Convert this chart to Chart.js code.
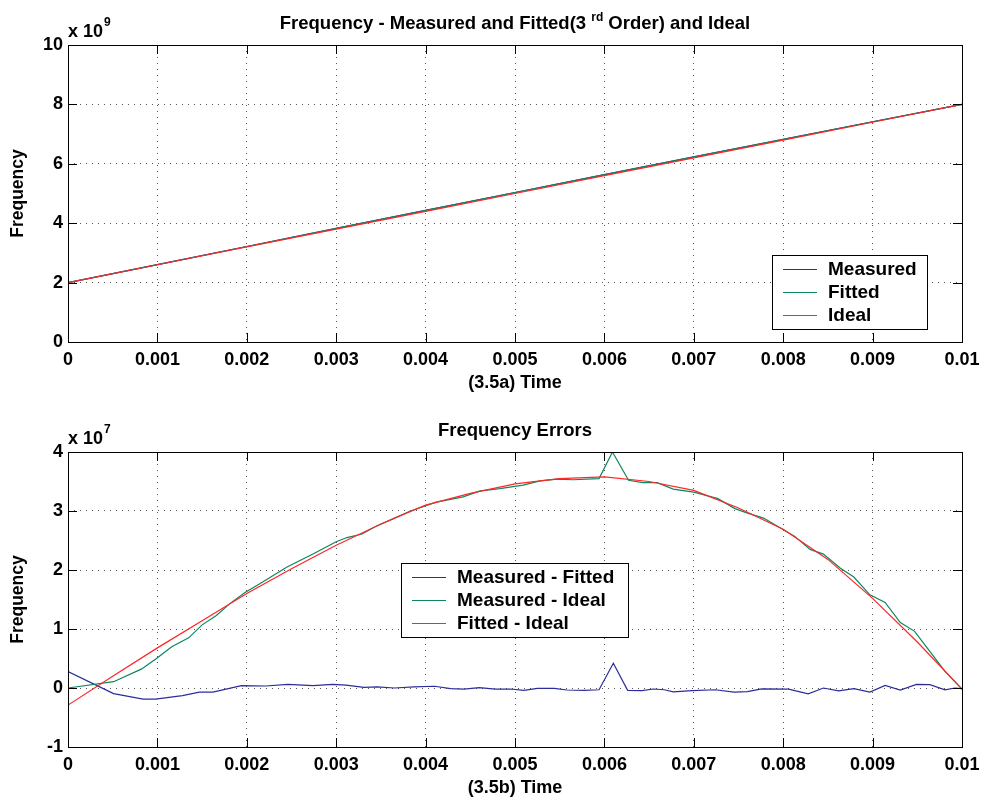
<!DOCTYPE html>
<html>
<head>
<meta charset="utf-8">
<script src="https://cdn.jsdelivr.net/npm/chart.js@4.4.0/dist/chart.umd.min.js"></script>
<style>
  html, body { margin: 0; padding: 0; background: #fff; }
  .panel { position: absolute; left: 0; width: 984px; height: 401px; }
</style>
</head>
<body>
<div class="panel" style="top:0"><canvas id="freqChart"></canvas></div>
<div class="panel" style="top:401px"><canvas id="errChart"></canvas></div>
<script>
// ---- data: top panel (frequency, x 1e9) ----
const timeTop = [0, 0.001, 0.002, 0.003, 0.004, 0.005, 0.006, 0.007, 0.008, 0.009, 0.01];
const freqMeasured = [2.0, 2.6045, 3.216, 3.8245, 4.4305, 5.034, 5.6355, 6.2335, 6.8265, 7.4155, 8.0];
const freqFitted   = [1.9971, 2.6068, 3.216, 3.8242, 4.431, 5.0346, 5.6358, 6.2335, 6.8269, 7.4152, 7.9998];
const freqIdeal    = [2.0, 2.6, 3.2, 3.8, 4.4, 5.0, 5.6, 6.2, 6.8, 7.4, 8.0];

// ---- data: bottom panel (frequency errors, x 1e7) ----
const timeMF = [0, 0.00051, 0.00084, 0.00098, 0.00128, 0.00147, 0.00162, 0.00194, 0.00221, 0.00246,
  0.00274, 0.00296, 0.00311, 0.00331, 0.00346, 0.00365, 0.00387, 0.0041, 0.00428, 0.00443,
  0.0046, 0.00478, 0.00495, 0.0051, 0.00525, 0.00544, 0.00558, 0.00577, 0.00594, 0.0061,
  0.00626, 0.00642, 0.00655, 0.00667, 0.00677, 0.00698, 0.00724, 0.00745, 0.0076, 0.00776,
  0.00806, 0.00828, 0.00845, 0.00862, 0.00879, 0.00897, 0.00914, 0.00931, 0.00949, 0.00964,
  0.00981, 0.00992, 0.01];
const errMeasFitted = [0.28, -0.096, -0.19, -0.19, -0.13, -0.07, -0.07, 0.04, 0.034, 0.06,
  0.04, 0.06, 0.05, 0.01, 0.02, 0.0, 0.02, 0.03, -0.01, -0.02,
  0.005, -0.02, -0.017, -0.04, -0.005, -0.005, -0.034, -0.04, -0.03, 0.42,
  -0.04, -0.045, -0.017, -0.03, -0.065, -0.045, -0.03, -0.07, -0.06, -0.015,
  -0.02, -0.1, 0.0, -0.05, -0.01, -0.07, 0.045, -0.035, 0.06, 0.056,
  -0.03, 0.0, -0.01];

const timeMI = [0, 0.00051, 0.00082, 0.00099, 0.00116, 0.00135, 0.0015, 0.00166, 0.00181, 0.00198,
  0.00215, 0.00245, 0.00274, 0.003, 0.00312, 0.00329, 0.00343, 0.00364, 0.00383, 0.00412,
  0.00442, 0.00461, 0.00483, 0.00509, 0.00528, 0.00547, 0.00565, 0.00594, 0.00609, 0.00627,
  0.00643, 0.00659, 0.00677, 0.007, 0.00727, 0.00746, 0.00761, 0.00778, 0.00796, 0.00813,
  0.0083, 0.00845, 0.00864, 0.00879, 0.00897, 0.00914, 0.00931, 0.00947, 0.00964, 0.00981,
  0.01];
const errMeasIdeal = [0, 0.107, 0.32, 0.5, 0.7, 0.85, 1.07, 1.23, 1.43, 1.62,
  1.77, 2.05, 2.27, 2.48, 2.55, 2.61, 2.73, 2.87, 3.0, 3.15,
  3.24, 3.34, 3.38, 3.44, 3.51, 3.54, 3.53, 3.55, 4.0, 3.52,
  3.48, 3.48, 3.37, 3.32, 3.21, 3.04, 2.96, 2.88, 2.72, 2.57,
  2.35, 2.27, 2.03, 1.88, 1.58, 1.45, 1.11, 0.96, 0.62, 0.28,
  -0.02];

const timeFI = [0, 0.0005, 0.001, 0.0015, 0.002, 0.0025, 0.003, 0.0035, 0.004, 0.0045, 0.005,
  0.0055, 0.006, 0.0065, 0.007, 0.0075, 0.008, 0.0085, 0.009, 0.0095, 0.01];
const errFittedIdeal = [-0.29, 0.2, 0.68, 1.14, 1.6, 2.02, 2.42, 2.78, 3.1, 3.3, 3.46,
  3.55, 3.58, 3.5, 3.35, 3.05, 2.69, 2.18, 1.52, 0.78, -0.02];

const xTicks = [0, 0.001, 0.002, 0.003, 0.004, 0.005, 0.006, 0.007, 0.008, 0.009, 0.01];

// ---- style ----
const FONT = "'Liberation Sans', Arial, Helvetica, sans-serif";
const BLUE = '#2c2c9e';
const GREEN = '#0e8660';
const RED = '#ff2626';
Chart.defaults.font.family = FONT;
Chart.defaults.color = '#000';

function pts(xs, ys) { return xs.map((x, i) => ({ x: x, y: ys[i] })); }

function line(label, xs, ys, color, order) {
  return { label: label, data: pts(xs, ys), borderColor: color, backgroundColor: color,
           borderWidth: 1.2, pointRadius: 0, tension: 0, order: order };
}

// MATLAB-ish frame: box, inward ticks, title, exponent, boxed legend
const matlabFrame = {
  id: 'matlabFrame',
  afterDraw(chart, args, o) {
    const c = chart.ctx, a = chart.chartArea;
    const xs = chart.scales.x, ys = chart.scales.y;
    c.save();
    c.strokeStyle = '#000';
    c.lineWidth = 1;
    // inward ticks
    c.beginPath();
    xs.ticks.forEach(t => {
      const px = Math.round(xs.getPixelForValue(t.value)) + 0.5;
      c.moveTo(px, a.bottom); c.lineTo(px, a.bottom - 9);
      c.moveTo(px, a.top); c.lineTo(px, a.top + 9);
    });
    ys.ticks.forEach(t => {
      const py = Math.round(ys.getPixelForValue(t.value)) + 0.5;
      c.moveTo(a.left, py); c.lineTo(a.left + 9, py);
      c.moveTo(a.right, py); c.lineTo(a.right - 9, py);
    });
    c.stroke();
    c.strokeRect(Math.round(a.left) + 0.5, Math.round(a.top) + 0.5,
                 Math.round(a.right - a.left), Math.round(a.bottom - a.top));

    // title (with optional superscript piece)
    c.fillStyle = '#000';
    c.textBaseline = 'alphabetic';
    const big = 'bold 18.5px ' + FONT, small = 'bold 12px ' + FONT;
    const parts = o.title;
    let w = 0;
    parts.forEach(p => { c.font = p.sup ? small : big; w += c.measureText(p.text).width; });
    let x = (a.left + a.right) / 2 - w / 2;
    const by = a.top - 16;
    parts.forEach(p => {
      c.font = p.sup ? small : big;
      c.fillText(p.text, x, p.sup ? by - 8 : by);
      x += c.measureText(p.text).width;
    });

    // exponent "x 10^n"
    c.font = 'bold 18px ' + FONT;
    c.fillText('x 10', a.left, a.top - 8);
    const ew = c.measureText('x 10').width;
    c.font = 'bold 12px ' + FONT;
    c.fillText(o.exponent, a.left + ew + 1, a.top - 19);

    // legend
    const L = o.legend;
    c.fillStyle = '#fff';
    c.fillRect(L.x, L.y, L.w, L.h);
    c.strokeStyle = '#000';
    c.lineWidth = 1;
    c.strokeRect(L.x + 0.5, L.y + 0.5, L.w, L.h);
    c.font = 'bold 19px ' + FONT;
    c.textBaseline = 'middle';
    chart.data.datasets.forEach((ds, i) => {
      const ry = L.y + L.row0 + i * L.dy;
      c.strokeStyle = ds.borderColor;
      c.lineWidth = 1;
      c.beginPath();
      c.moveTo(L.x + 11, ry + 0.5); c.lineTo(L.x + 45, ry + 0.5);
      c.stroke();
      c.fillStyle = '#000';
      c.fillText(ds.label, L.x + 56, ry + 1);
    });
    c.restore();
  }
};

function xScale(titleText, axisHeight, titlePad) {
  return {
    type: 'linear', min: 0, max: 0.01,
    afterBuildTicks: s => { s.ticks = xTicks.map(v => ({ value: v })); },
    afterFit: s => { s.height = axisHeight; s.paddingLeft = 0; s.paddingRight = 0; },
    ticks: { font: { size: 18, weight: 'bold' }, padding: 7, maxRotation: 0, autoSkip: false,
             callback: v => String(parseFloat(v.toFixed(4))) },
    grid: { color: '#555', drawTicks: false, lineWidth: 1 },
    border: { display: false, dash: [1, 5] },
    title: { display: true, text: titleText, font: { size: 18, weight: 'bold' },
             padding: { top: 0, bottom: titlePad } }
  };
}

function yScale(min, max, step) {
  return {
    min: min, max: max,
    ticks: { stepSize: step, font: { size: 18, weight: 'bold' }, padding: 5 },
    afterFit: s => { s.width = 68; },
    grid: { color: '#555', drawTicks: false, lineWidth: 1 },
    border: { display: false, dash: [1, 5] },
    title: { display: true, text: 'Frequency', font: { size: 17.5, weight: 'bold' },
             padding: { top: 7.5, bottom: 0 } }
  };
}

const baseOpts = {
  responsive: true, maintainAspectRatio: false, animation: false, devicePixelRatio: 1,
  plugins: { legend: { display: false }, tooltip: { enabled: false } }
};

new Chart(document.getElementById('freqChart'), {
  type: 'line',
  data: {
    datasets: [
      line('Measured', timeTop, freqMeasured, BLUE, 2),
      line('Fitted', timeTop, freqFitted, GREEN, 1),
      line('Ideal', timeTop, freqIdeal, RED, 0)
    ]
  },
  options: Object.assign({}, baseOpts, {
    layout: { padding: { top: 45, right: 22, left: 0, bottom: 0 } },
    scales: { x: xScale('(3.5a) Time', 59, 7), y: yScale(0, 10, 2) },
    plugins: Object.assign({}, baseOpts.plugins, {
      matlabFrame: {
        title: [{ text: 'Frequency - Measured and Fitted(3 ' }, { text: 'rd', sup: true }, { text: ' Order) and Ideal' }],
        exponent: '9',
        legend: { x: 772, y: 255, w: 155, h: 74, row0: 14, dy: 23 }
      }
    })
  }),
  plugins: [matlabFrame]
});

new Chart(document.getElementById('errChart'), {
  type: 'line',
  data: {
    datasets: [
      line('Measured - Fitted', timeMF, errMeasFitted, BLUE, 2),
      line('Measured - Ideal', timeMI, errMeasIdeal, GREEN, 1),
      line('Fitted - Ideal', timeFI, errFittedIdeal, RED, 0)
    ]
  },
  options: Object.assign({}, baseOpts, {
    layout: { padding: { top: 51, right: 22, left: 0, bottom: 0 } },
    scales: { x: xScale('(3.5b) Time', 55, 3), y: yScale(-1, 4, 1) },
    plugins: Object.assign({}, baseOpts.plugins, {
      matlabFrame: {
        title: [{ text: 'Frequency Errors' }],
        exponent: '7',
        legend: { x: 401, y: 162, w: 227, h: 74, row0: 14, dy: 23 }
      }
    })
  }),
  plugins: [matlabFrame]
});
</script>
</body>
</html>
